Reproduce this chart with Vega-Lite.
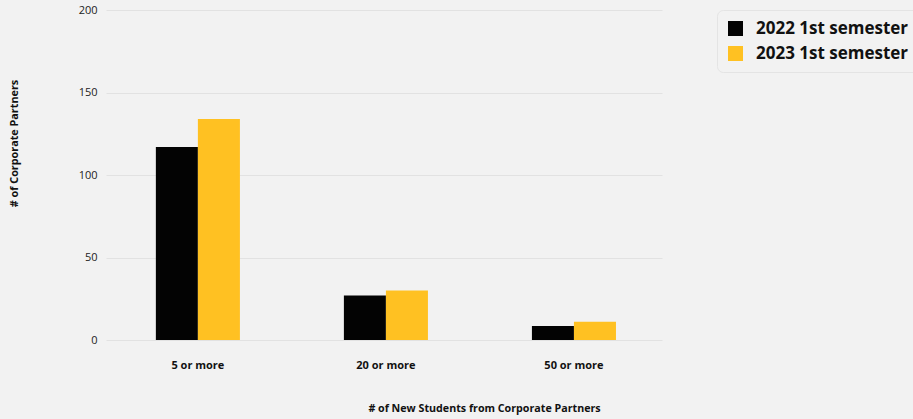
{
  "$schema": "https://vega.github.io/schema/vega-lite/v6.json",
  "width": 556,
  "height": 330,
  "autosize": "none",
  "padding": {"left": 106, "top": 10, "right": 251, "bottom": 79},
  "background": "#f2f2f2",
  "data": {
    "values": [
      {"group": "5 or more", "semester": "2022 1st semester", "value": 117},
      {"group": "5 or more", "semester": "2023 1st semester", "value": 134},
      {"group": "20 or more", "semester": "2022 1st semester", "value": 27},
      {"group": "20 or more", "semester": "2023 1st semester", "value": 30},
      {"group": "50 or more", "semester": "2022 1st semester", "value": 8.5},
      {"group": "50 or more", "semester": "2023 1st semester", "value": 11}
    ]
  },
  "mark": {"type": "bar"},
  "encoding": {
    "x": {
      "field": "group",
      "type": "nominal",
      "sort": ["5 or more", "20 or more", "50 or more"],
      "scale": {"paddingInner": 0.553, "paddingOuter": 0.255, "align": 0.52},
      "axis": {
        "title": "# of New Students from Corporate Partners",
        "labelAngle": 0,
        "domain": false,
        "ticks": false,
        "labelPadding": 19,
        "labelFont": "Open Sans",
        "labelFontWeight": "bold",
        "labelFontSize": 11,
        "labelColor": "#111111",
        "titleFont": "Open Sans",
        "titleFontWeight": "bold",
        "titleFontSize": 10.7,
        "titleColor": "#111111",
        "titleX": 378,
        "titleY": 68,
        "titleBaseline": "middle",
        "titleAnchor": null,
        "titleAlign": "center"
      }
    },
    "xOffset": {"field": "semester", "type": "nominal", "scale": {"paddingInner": 0, "paddingOuter": 0}},
    "y": {
      "field": "value",
      "type": "quantitative",
      "scale": {"domain": [0, 200]},
      "axis": {
        "title": "# of Corporate Partners",
        "values": [0, 50, 100, 150, 200],
        "domain": false,
        "ticks": false,
        "labelPadding": 9,
        "labelFont": "Open Sans",
        "labelFontSize": 11,
        "labelColor": "#222222",
        "gridColor": "#e2e2e2",
        "gridWidth": 1,
        "titleFont": "Open Sans",
        "titleFontWeight": "bold",
        "titleFontSize": 10.8,
        "titleColor": "#111111",
        "titleX": -92,
        "titleY": 133,
        "titleAngle": -90,
        "titleBaseline": "middle",
        "titleAlign": "center",
        "titleAnchor": null
      }
    },
    "color": {
      "field": "semester",
      "type": "nominal",
      "scale": {"domain": ["2022 1st semester", "2023 1st semester"], "range": ["#030303", "#ffc122"]},
      "legend": {
        "title": null,
        "orient": "none",
        "legendX": 611,
        "legendY": 0,
        "symbolType": "square",
        "symbolSize": 225,
        "symbolStrokeWidth": 0,
        "symbolOpacity": 1,
        "labelFont": "Open Sans",
        "labelFontWeight": "bold",
        "labelFontSize": 17,
        "labelColor": "#111111",
        "labelOffset": 12,
        "rowPadding": 7,
        "padding": 10,
        "strokeColor": "#e4e4e4",
        "fillColor": "#f2f2f2",
        "cornerRadius": 6
      }
    }
  },
  "config": {
    "view": {"stroke": null},
    "axis": {"gridColor": "#e2e2e2"}
  }
}
